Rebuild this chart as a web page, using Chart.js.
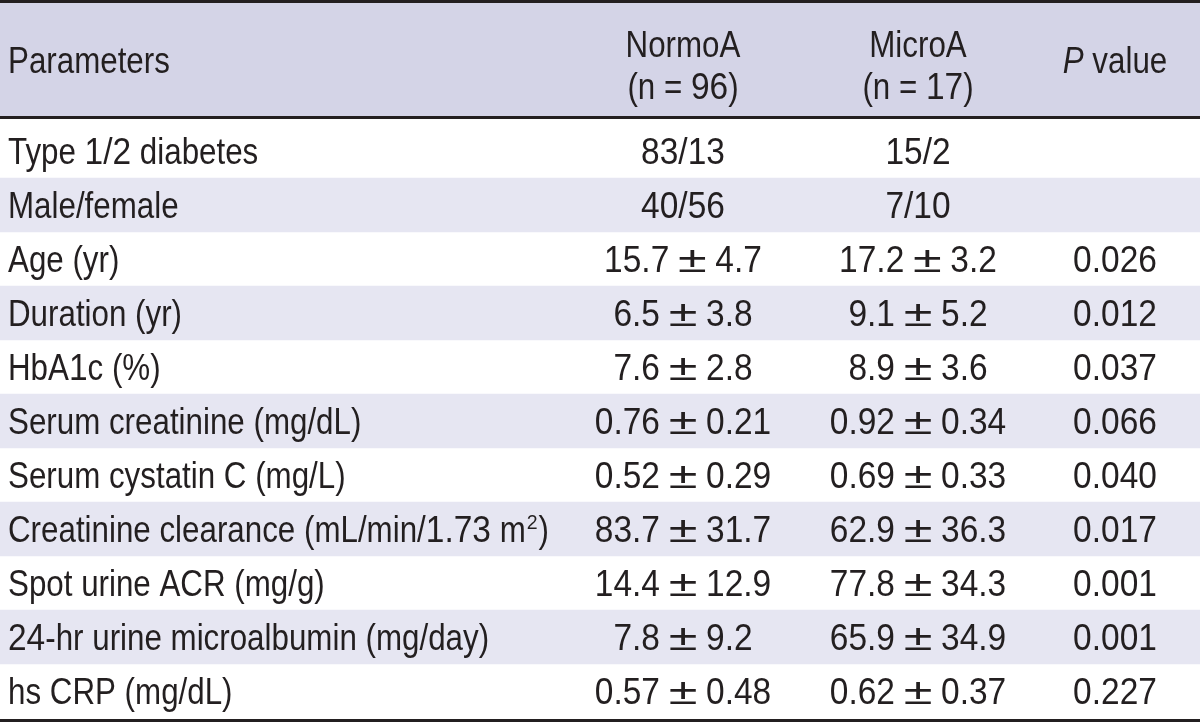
<!DOCTYPE html>
<html><head><meta charset="utf-8">
<script src="https://cdn.jsdelivr.net/npm/chart.js@4"></script>
<style>html,body{margin:0;padding:0;background:#fff}#wrap{width:1200px;height:726px;position:relative}canvas{display:block}</style>
</head><body><div id="wrap"><canvas id="c" width="1200" height="726" style="width:1200px;height:726px"></canvas></div>
<script>
// ---- data ----
const columnHeaders = [['Parameters'], ['NormoA', '(n = 96)'], ['MicroA', '(n = 17)'], ['*P* value']];
const parameters = ['Type 1/2 diabetes', 'Male/female', 'Age (yr)', 'Duration (yr)', 'HbA1c (%)',
  'Serum creatinine (mg/dL)', 'Serum cystatin C (mg/L)', 'Creatinine clearance (mL/min/1.73 m^2^)',
  'Spot urine ACR (mg/g)', '24-hr urine microalbumin (mg/day)', 'hs CRP (mg/dL)'];
const normoA = ['83/13', '40/56', '15.7 ± 4.7', '6.5 ± 3.8', '7.6 ± 2.8', '0.76 ± 0.21', '0.52 ± 0.29',
  '83.7 ± 31.7', '14.4 ± 12.9', '7.8 ± 9.2', '0.57 ± 0.48'];
const microA = ['15/2', '7/10', '17.2 ± 3.2', '9.1 ± 5.2', '8.9 ± 3.6', '0.92 ± 0.34', '0.69 ± 0.33',
  '62.9 ± 36.3', '77.8 ± 34.3', '65.9 ± 34.9', '0.62 ± 0.37'];
const pValues = ['', '', '0.026', '0.012', '0.037', '0.066', '0.040', '0.017', '0.001', '0.001', '0.227'];
const shadedRows = [false, true, false, true, false, true, false, true, false, true, false];

// ---- style / layout ----
const FONT_FAMILY = "'Liberation Sans', Arial, sans-serif";
const FONT_SIZE = 36;
const SX_TEXT = 0.87;     // horizontal condensing for letters
const SX_DIGIT = 0.93;    // digits are relatively wider in the condensed face
const SX_PM = 1.45;       // wide plus-minus sign
const TEXT = '#231f20';
const HEADER_BG = '#d4d4e7';
const STRIPE_BG = '#e6e6f2';
const HEADER_BOTTOM = 117;
const COL_X = [8, 683, 918, 1115];   // left edge of first column, centres of others (x-scale units = px)

function parseRich(s) {
  const parts = []; let buf = ''; let it = false, sup = false;
  for (const ch of s) {
    if (ch === '*' || ch === '^') {
      if (buf) parts.push({ t: buf, it, sup }); buf = '';
      if (ch === '*') it = !it; else sup = !sup;
    } else buf += ch;
  }
  if (buf) parts.push({ t: buf, it, sup });
  // split into runs by character class
  const runs = [];
  parts.forEach(p => {
    let cur = null, prev = '';
    for (const ch of p.t) {
      let cls;
      if (ch === '±') cls = 'pm';
      else if (/[0-9]/.test(ch) || ((ch === '.' || ch === '/') && /[0-9]/.test(prev))) cls = 'dig';
      else cls = 'txt';
      if (!cur || cur.cls !== cls) { cur = { t: '', cls, it: p.it, sup: p.sup }; runs.push(cur); }
      cur.t += ch; prev = ch;
    }
  });
  return runs;
}
function fontFor(p) {
  return (p.it ? 'italic ' : '') + (p.sup ? Math.round(FONT_SIZE * 0.58) : FONT_SIZE) + 'px ' + FONT_FAMILY;
}
function sxFor(p) { return p.cls === 'pm' ? SX_PM : p.cls === 'dig' ? SX_DIGIT : SX_TEXT; }
function drawRich(ctx, s, x, baseline, align) {
  const runs = parseRich(s);
  let total = 0;
  runs.forEach(p => { ctx.font = fontFor(p); p.w = ctx.measureText(p.t).width * sxFor(p) + (p.sup ? 2 : 0); total += p.w; });
  let cx = align === 'center' ? x - total / 2 : x;
  ctx.textAlign = 'left'; ctx.textBaseline = 'alphabetic';
  runs.forEach(p => {
    ctx.save();
    ctx.font = fontFor(p);
    ctx.translate(cx + (p.sup ? 1 : 0), p.sup ? baseline - FONT_SIZE * 0.36 : baseline);
    ctx.scale(sxFor(p), 1);
    ctx.fillText(p.t, 0, 0);
    ctx.restore();
    cx += p.w;
  });
}

const tablePlugin = {
  id: 'tablePlugin',
  beforeDraw(chart) {
    const { ctx, scales: { x } } = chart;
    ctx.save();
    ctx.fillStyle = '#fff';
    ctx.fillRect(0, 0, chart.width, chart.height);
    ctx.fillStyle = HEADER_BG;
    ctx.fillRect(x.left, 0, x.width, HEADER_BOTTOM);
    ctx.restore();
  },
  afterDatasetsDraw(chart) {
    const { ctx, chartArea, scales: { x, y } } = chart;
    ctx.save();
    ctx.fillStyle = TEXT;
    const capHalf = FONT_SIZE * 0.716 / 2;
    columnHeaders.forEach((lines, c) => {
      const px = x.getPixelForValue(COL_X[c]);
      const align = c === 0 ? 'left' : 'center';
      if (lines.length === 1) {
        drawRich(ctx, lines[0], px, 60 + capHalf, align);
      } else {
        drawRich(ctx, lines[0], px, 44 + capHalf, align);
        drawRich(ctx, lines[1], px, 86 + capHalf, align);
      }
    });
    parameters.forEach((name, i) => {
      const py = y.getPixelForValue(i) + capHalf;
      drawRich(ctx, name, x.getPixelForValue(COL_X[0]), py, 'left');
      drawRich(ctx, normoA[i], x.getPixelForValue(COL_X[1]), py, 'center');
      drawRich(ctx, microA[i], x.getPixelForValue(COL_X[2]), py, 'center');
      drawRich(ctx, pValues[i], x.getPixelForValue(COL_X[3]), py, 'center');
    });
    ctx.fillStyle = TEXT;
    ctx.fillRect(x.left, 0, x.width, 3);
    ctx.fillRect(x.left, HEADER_BOTTOM - 1, x.width, 3);
    ctx.fillRect(x.left, chartArea.bottom + 1, x.width, 3);
    ctx.restore();
  }
};

new Chart(document.getElementById('c'), {
  type: 'bar',
  data: {
    labels: parameters,
    datasets: [{
      label: 'stripes',
      data: shadedRows.map(s => s ? [0, 1200] : null),
      backgroundColor: STRIPE_BG,
      borderWidth: 0,
      barPercentage: 1,
      categoryPercentage: 1
    }]
  },
  options: {
    indexAxis: 'y',
    responsive: false,
    animation: false,
    devicePixelRatio: 1,
    layout: { padding: { top: 124, bottom: 8, left: 0, right: 0 } },
    plugins: { legend: { display: false }, tooltip: { enabled: false }, title: { display: false } },
    scales: {
      x: { type: 'linear', min: 0, max: 1200, display: false },
      y: { type: 'category', display: false, offset: true }
    },
    events: []
  },
  plugins: [tablePlugin]
});
</script>
</body></html>
